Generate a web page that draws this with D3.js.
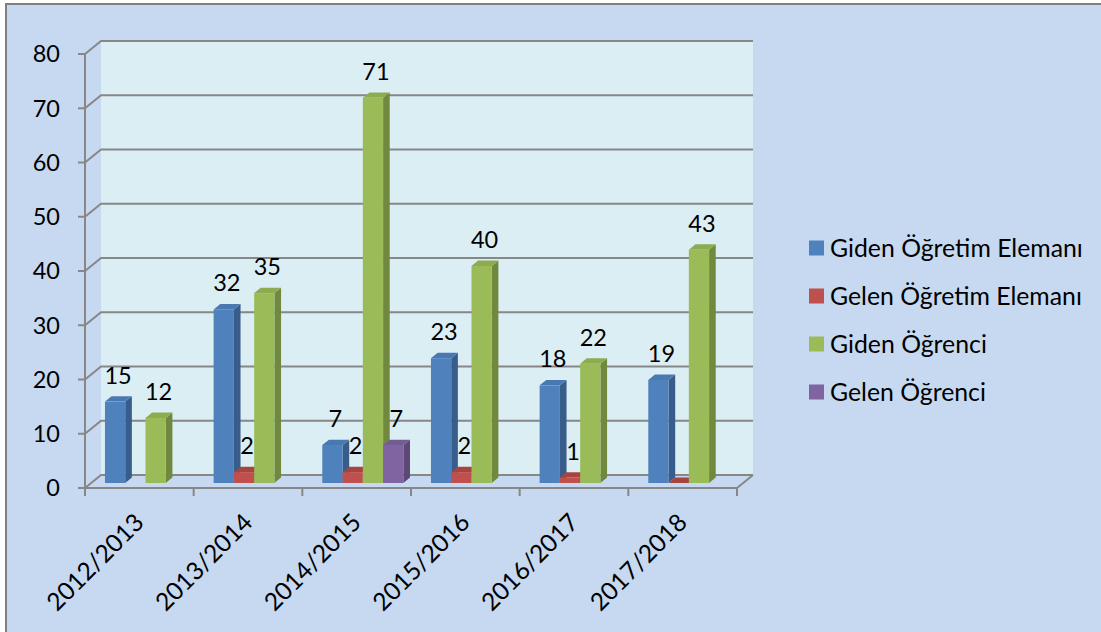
<!DOCTYPE html>
<html><head><meta charset="utf-8">
<script src="https://cdn.jsdelivr.net/npm/d3@7"></script>
<style>html,body{margin:0;padding:0;background:#fff;}svg{display:block;}</style>
</head><body>
<svg id="chart" width="1101" height="632"></svg>
<script>
const categories = ["2012/2013","2013/2014","2014/2015","2015/2016","2016/2017","2017/2018"];
const seriesNames = ["Giden Öğretim Elemanı","Gelen Öğretim Elemanı","Giden Öğrenci","Gelen Öğrenci"];
const gidenOgretim = [15, 32, 7, 23, 18, 19];
const gelenOgretim = [null, 2, 2, 2, 1, 0];
const gidenOgrenci = [12, 35, 71, 40, 22, 43];
const gelenOgrenci = [null, null, 7, null, null, null];
const yTicks = [0,10,20,30,40,50,60,70,80];

const seriesValues = [gidenOgretim, gelenOgretim, gidenOgrenci, gelenOgrenci];
const colors = [
  {front:"#4f81bd", side:"#385d8a", top:"#4a78b0"},
  {front:"#c0504d", side:"#8c3a38", top:"#a8443f"},
  {front:"#9bbb59", side:"#71893f", top:"#8dab50"},
  {front:"#8064a2", side:"#5c4776", top:"#745b93"}
];
const FONT = "Lato, 'Noto Sans', sans-serif";
const FS = 23.5, FS_LEG = 24.8, FS_X = 24.5;

const svg = d3.select("#chart");
// frame
svg.append("rect").attr("x",6).attr("y",4).attr("width",1200).attr("height",700)
  .attr("fill","#c6d9f1").attr("stroke","#808080").attr("stroke-width",2);

const DX = 16, DY = 13;
const x = d3.scaleBand().domain(categories).range([85, 737]);
const y = d3.scaleLinear().domain([0,80]).range([488, 54]);
const pad = 13.8;
const s = d3.scaleBand().domain(seriesNames).range([pad, x.bandwidth()-pad]);
const proj = (px, py, z) => [px + z*DX, py - z*DY];

// back wall
const bl = proj(x.range()[0], y(80), 1), br = proj(x.range()[1], y(0), 1);
svg.append("rect").attr("x",bl[0]).attr("y",bl[1]).attr("width",br[0]-bl[0]).attr("height",br[1]-bl[1])
  .attr("fill","#dbeef4");

const gridColor = "#878787";
const g = svg.append("g").attr("fill","none").attr("stroke",gridColor).attr("stroke-width",2);
yTicks.forEach(t => {
  const a = proj(x.range()[0], y(t), 0), b = proj(x.range()[0], y(t), 1), c = proj(x.range()[1], y(t), 1);
  g.append("path").attr("d", d3.line()([a,b,c]));
  g.append("line").attr("x1",a[0]-7).attr("x2",a[0]).attr("y1",a[1]).attr("y2",a[1]);
});
g.append("line").attr("x1",x.range()[0]).attr("x2",x.range()[0]).attr("y1",y(80)).attr("y2",y(0));
const f0 = proj(x.range()[0], y(0), 0), f1 = proj(x.range()[1], y(0), 0), f2 = proj(x.range()[1], y(0), 1);
g.append("path").attr("d", d3.line()([f0,f1,f2]));
categories.concat([null]).forEach((c,i) => {
  const px = x.range()[0] + i*x.step();
  g.append("line").attr("x1",px).attr("x2",px).attr("y1",y(0)).attr("y2",y(0)+8);
});

// y tick labels
svg.append("g").selectAll("text").data(yTicks).join("text")
  .attr("x",60).attr("y",d=>y(d)).attr("dy","0.36em").attr("text-anchor","end")
  .attr("font-family",FONT).attr("font-size",FS).attr("fill","#000").text(d=>d);

// x labels
svg.append("g").selectAll("text").data(categories).join("text")
  .attr("transform",d=>`translate(${x(d)+x.bandwidth()/2+6},${y(0)+36}) rotate(-45)`)
  .attr("text-anchor","end").attr("font-family",FONT).attr("font-size",FS_X).attr("fill","#000").text(d=>d);

// bars
const z0 = 0.385, z1 = 0.8;
const bars = svg.append("g");
const labels = [];
categories.forEach((cat, ci) => {
  seriesNames.forEach((ser, si) => {
    const v = seriesValues[si][ci];
    if (v === null) return;
    const bx = x(cat) + s(ser), bw = s.bandwidth();
    const yt = y(v), yb = y(0);
    const A = proj(bx, yt, z0), B = proj(bx+bw, yt, z0), C = proj(bx+bw, yb, z0);
    const Bb = proj(bx+bw, yt, z1), Cb = proj(bx+bw, yb, z1), Ab = proj(bx, yt, z1);
    const col = colors[si];
    bars.append("path").attr("d", d3.line()([B,Bb,Cb,C])+"Z").attr("fill",col.side);
    bars.append("path").attr("d", d3.line()([A,B,Bb,Ab])+"Z").attr("fill",col.top);
    if (v > 0) bars.append("rect").attr("x",A[0]).attr("y",A[1]).attr("width",bw).attr("height",C[1]-A[1]).attr("fill",col.front);
    if (v > 0) labels.push({v, x: A[0]+bw/2+3, y: A[1]-18});
  });
});
svg.append("g").selectAll("text").data(labels).join("text")
  .attr("x",d=>d.x).attr("y",d=>d.y).attr("text-anchor","middle")
  .attr("font-family",FONT).attr("font-size",FS).attr("fill","#000").text(d=>d.v);

// legend
const legend = svg.append("g");
seriesNames.forEach((n,i) => {
  const cy = 248 + i*48;
  legend.append("rect").attr("x",809).attr("y",cy-7.5).attr("width",15).attr("height",15).attr("fill",colors[i].front);
  legend.append("text").attr("x",830).attr("y",cy).attr("dy","0.36em")
    .attr("font-family",FONT).attr("font-size",FS_LEG).attr("fill","#000").text(n);
});
</script>
</body></html>
